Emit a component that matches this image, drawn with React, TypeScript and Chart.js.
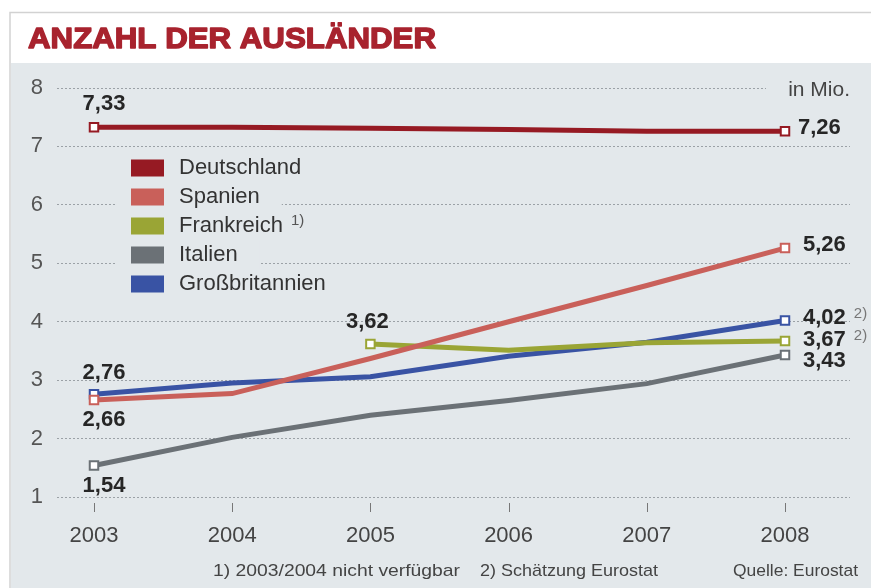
import React, { useEffect, useRef } from 'react';
import { Chart, registerables } from 'chart.js';

Chart.register(...registerables);

// ---------- data ----------
const years = [2003, 2004, 2005, 2006, 2007, 2008];
const seriesNames = ['Deutschland', 'Spanien', 'Frankreich', 'Italien', 'Großbritannien'];
const deutschland = [7.33, 7.33, 7.31, 7.29, 7.26, 7.26];
const spanien = [2.66, 2.77, 3.37, 4.0, 4.62, 5.26];
const frankreich = [null, null, 3.62, 3.51, 3.64, 3.67];
const italien = [1.54, 2.02, 2.4, 2.65, 2.94, 3.43];
const grossbritannien = [2.76, 2.95, 3.06, 3.41, 3.65, 4.02];
const yTickValues = [1, 2, 3, 4, 5, 6, 7, 8];

const titleText = 'ANZAHL DER AUSLÄNDER';
const unitText = 'in Mio.';
const legendNotes = ['', '', '1)', '', ''];
const footnote1 = '1) 2003/2004 nicht verfügbar';
const footnote2 = '2) Schätzung Eurostat';
const sourceText = 'Quelle: Eurostat';
const estimateNote = '2)';

// ---------- styles ----------
const colors = ['#961a23', '#c9605a', '#9aa535', '#6b7176', '#3953a4'];
const PANEL = '#e3e8eb';
const FONT = "'Liberation Sans', Arial, sans-serif";

// value labels: which point, offsets (style only)
const valueLabels = [
  { ds: 0, i: 0, dx: 10, dy: -23, align: 'center' },
  { ds: 0, i: 5, dx: 13, dy: -3, align: 'left' },
  { ds: 1, i: 0, dx: 10, dy: 19.5, align: 'center' },
  { ds: 1, i: 5, dx: 18, dy: -3, align: 'left' },
  { ds: 2, i: 2, dx: -3, dy: -22, align: 'center' },
  { ds: 2, i: 5, dx: 18, dy: -1.5, align: 'left', note: true },
  { ds: 3, i: 0, dx: 10, dy: 20, align: 'center' },
  { ds: 3, i: 5, dx: 18, dy: 6, align: 'left' },
  { ds: 4, i: 0, dx: 10, dy: -21.5, align: 'center' },
  { ds: 4, i: 5, dx: 18, dy: -2.5, align: 'left', note: true },
];

const seriesData = [deutschland, spanien, frankreich, italien, grossbritannien];

function fmt(v: number) {
  return v.toFixed(2).replace('.', ',');
}

function drawFit(ctx: CanvasRenderingContext2D, text: string, x: number, y: number, width: number, stroke = 0) {
  const w = ctx.measureText(text).width;
  const s = width / w;
  ctx.save();
  ctx.translate(x, y);
  ctx.scale(s, 1);
  ctx.textAlign = 'left';
  ctx.fillText(text, 0, 0);
  if (stroke > 0) {
    ctx.lineWidth = stroke;
    ctx.lineJoin = 'round';
    ctx.strokeText(text, 0, 0);
  }
  ctx.restore();
}

const decorPlugin = {
  id: 'decor',
  beforeDraw(chart: any) {
    const ctx = chart.ctx as CanvasRenderingContext2D;
    const W = chart.width, H = chart.height;
    ctx.save();
    ctx.fillStyle = '#ffffff';
    ctx.fillRect(0, 0, W, H);
    ctx.fillStyle = PANEL;
    ctx.fillRect(11, 63, W - 11, H - 63);
    ctx.strokeStyle = '#d2d2d2';
    ctx.lineWidth = 1.5;
    ctx.beginPath();
    ctx.moveTo(10, H);
    ctx.lineTo(10, 12.5);
    ctx.lineTo(W, 12.5);
    ctx.stroke();
    // title
    ctx.fillStyle = '#a8232e';
    ctx.strokeStyle = '#a8232e';
    ctx.font = `bold 29px ${FONT}`;
    ctx.textBaseline = 'alphabetic';
    drawFit(ctx, titleText, 28, 48, 408, 1.4);
    ctx.restore();
  },
  afterDatasetsDraw(chart: any) {
    const ctx = chart.ctx as CanvasRenderingContext2D;
    const xScale = chart.scales.x;
    ctx.save();
    // x tick marks
    ctx.strokeStyle = '#777';
    ctx.lineWidth = 1;
    years.forEach((yr) => {
      const px = Math.round(xScale.getPixelForValue(yr)) + 0.5;
      ctx.beginPath();
      ctx.moveTo(px, 503);
      ctx.lineTo(px, 512);
      ctx.stroke();
    });

    // unit label with background
    ctx.font = `21px ${FONT}`;
    const uw = ctx.measureText(unitText).width;
    ctx.fillStyle = PANEL;
    ctx.fillRect(766, 76, 105, 26);
    ctx.fillStyle = '#444';
    ctx.textBaseline = 'middle';
    ctx.textAlign = 'left';
    ctx.fillText(unitText, 850 - uw, 90);

    // legend
    seriesNames.forEach((name, k) => {
      const cy = 168 + k * 29;
      ctx.font = `22px ${FONT}`;
      const tw = ctx.measureText(name).width;
      let end = 179 + tw;
      if (legendNotes[k]) end += 30;
      ctx.fillStyle = PANEL;
      ctx.fillRect(115, cy - 14.5, end - 115 + 22, 29);
      ctx.fillStyle = colors[k];
      ctx.fillRect(131, cy - 8.5, 33, 17);
      ctx.fillStyle = '#333';
      ctx.textBaseline = 'middle';
      ctx.textAlign = 'left';
      ctx.fillText(name, 179, cy);
      if (legendNotes[k]) {
        ctx.font = `15px ${FONT}`;
        ctx.fillStyle = '#555';
        ctx.fillText(legendNotes[k], 179 + tw + 8, cy - 5);
      }
    });

    // value labels
    valueLabels.forEach((lab) => {
      const meta = chart.getDatasetMeta(lab.ds);
      const pt = meta.data[lab.i];
      const v = seriesData[lab.ds][lab.i] as number;
      const text = fmt(v);
      ctx.font = `bold 22px ${FONT}`;
      ctx.fillStyle = '#262626';
      ctx.textBaseline = 'middle';
      ctx.textAlign = lab.align as CanvasTextAlign;
      const x = pt.x + lab.dx;
      const y = pt.y + lab.dy;
      ctx.fillText(text, x, y);
      if (lab.note) {
        const w = ctx.measureText(text).width;
        ctx.font = `15px ${FONT}`;
        ctx.fillStyle = '#777';
        ctx.textAlign = 'left';
        ctx.fillText(estimateNote, x + w + 8, y - 4);
      }
    });

    // footnotes
    ctx.fillStyle = '#444';
    ctx.textBaseline = 'middle';
    ctx.font = `17px ${FONT}`;
    drawFit(ctx, footnote1, 213, 571, 247);
    drawFit(ctx, footnote2, 480, 571, 178);
    drawFit(ctx, sourceText, 733, 571, 125);
    ctx.restore();
  },
};

export default function App() {
  const ref = useRef<HTMLCanvasElement | null>(null);

  useEffect(() => {
    document.body.style.margin = '0';
    const canvas = ref.current;
    if (!canvas) return;
    const chart = new Chart(canvas, {
      type: 'line',
      data: {
        labels: years,
        datasets: seriesNames.map((name, k) => ({
          label: name,
          data: seriesData[k],
          borderColor: colors[k],
          backgroundColor: colors[k],
          borderWidth: 5,
          tension: 0,
          fill: false,
          pointStyle: 'rect',
          pointBackgroundColor: '#ffffff',
          pointBorderColor: colors[k],
          pointBorderWidth: 2,
          pointRadius: (c: any) => {
            const d = seriesData[k];
            const first = d.findIndex((v) => v !== null);
            return c.dataIndex === first || c.dataIndex === d.length - 1 ? 6 : 0;
          },
        })),
      },
      options: {
        responsive: false,
        animation: false,
        layout: { padding: { top: 88, left: 0, right: 21, bottom: 0 } },
        plugins: { legend: { display: false }, tooltip: { enabled: false } },
        scales: {
          x: {
            type: 'linear',
            min: 2002.7323,
            max: 2008.4703,
            afterBuildTicks: (s: any) => {
              s.ticks = years.map((v) => ({ value: v }));
            },
            afterFit: (s: any) => {
              s.height = 91;
            },
            grid: { display: false },
            border: { display: false },
            ticks: {
              padding: 18,
              color: '#444',
              font: { family: FONT, size: 22 },
              callback: (v: any) => String(v),
              maxRotation: 0,
              autoSkip: false,
            },
          },
          y: {
            min: 1,
            max: 8,
            afterBuildTicks: (s: any) => {
              s.ticks = yTickValues.map((v) => ({ value: v }));
            },
            afterFit: (s: any) => {
              s.width = 57;
            },
            grid: { color: '#9ba1a6', lineWidth: 1, drawTicks: false },
            border: { display: false, dash: [2, 2] },
            ticks: {
              padding: 14,
              color: '#555',
              font: { family: FONT, size: 22 },
            },
          },
        },
      },
      plugins: [decorPlugin],
    } as any);
    return () => chart.destroy();
  }, []);

  return (
    <div style={{ width: 871, height: 588 }}>
      <canvas ref={ref} width={871} height={588} style={{ display: 'block' }} />
    </div>
  );
}
